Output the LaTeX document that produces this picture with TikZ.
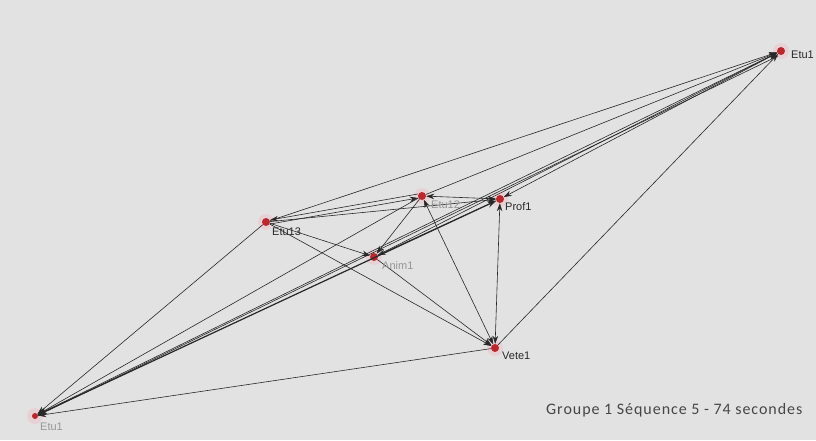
\documentclass[tikz,border=0pt]{standalone}
\usepackage{fontspec}
\setmainfont{Liberation Sans}
\newfontfamily\capfont[LetterSpace=6]{Carlito}
\usetikzlibrary{arrows.meta}
\definecolor{bgc}{RGB}{226,226,226}
\definecolor{dotred}{RGB}{185,40,45}
\definecolor{halo}{RGB}{240,190,195}
\definecolor{linec}{RGB}{40,40,40}
\definecolor{lbldark}{RGB}{40,40,40}
\definecolor{lblgray}{RGB}{150,150,150}
\definecolor{capc}{RGB}{70,70,70}
\tikzset{
  dot/.style={circle, fill=dotred, inner sep=0pt, minimum size=8pt},
  halodot/.style={fill=halo, opacity=0.45},
  lbl/.style={font=\fontsize{11}{12}\selectfont, text=lbldark, inner sep=0pt, anchor=north west},
  lblg/.style={lbl, text=lblgray},
  edge/.style={draw=linec, line width=0.6pt},
  arr/.style={edge, -{Stealth[length=8pt,width=5.5pt]}},
  biarr/.style={edge, {Stealth[length=8pt,width=5.5pt]}-{Stealth[length=8pt,width=5.5pt]}},
  thick arr/.style={edge, line width=1.2pt, {Stealth[length=9pt,width=6.5pt]}-{Stealth[length=9pt,width=6.5pt]}}
}
\begin{document}
\begin{tikzpicture}[x=1pt,y=-1pt]
\fill[bgc] (0,0) rectangle (816,440);
\useasboundingbox (0,0) rectangle (816,440);
% positions
\coordinate (pe1) at (781,51);
\coordinate (pe13) at (266,222);
\coordinate (pe12) at (422,196);
\coordinate (pp1) at (500,199);
\coordinate (pa1) at (374,257);
\coordinate (pv1) at (495,348);
\coordinate (pbl) at (35,416);
\foreach \c in {pe1,pe13,pe12,pp1,pa1,pv1,pbl} \fill[halodot] (\c) circle (8pt);
% nodes
\node[dot] (e1) at (pe1) {};
\node[dot] (e13) at (pe13) {};
\node[dot] (e12) at (pe12) {};
\node[dot] (p1) at (pp1) {};
\node[dot] (a1) at (pa1) {};
\node[dot] (v1) at (pv1) {};
\node[dot, minimum size=6pt] (bl) at (pbl) {};
% edges
\draw[arr] (bl) -- (e1);
\draw[arr] ([yshift=-2pt]e1.south west) -- ([yshift=-2pt]bl.north east);
\draw[thick arr] (bl) -- (p1);
\draw[arr] (e13) -- (bl);
\draw[arr] (e12) -- (bl);
\draw[arr] (v1) -- (bl);
\draw[arr] (e13) -- (e1);
\draw[arr] ([yshift=-2pt]e13.east) -- ([yshift=-2pt]e12.west);
\draw[arr] ([yshift=2pt]e12.west) -- ([yshift=2pt]e13.east);
\draw[arr] (e13) -- (p1);
\draw[arr] (e13) -- (a1);
\draw[arr] (e13) -- (v1);
\draw[arr] (e12) -- (e1);
\draw[biarr] (e12) -- (p1);
\draw[arr] (e12) -- (a1);
\draw[biarr] (e12) -- (v1);
\draw[biarr] (p1) -- (e1);
\draw[biarr] (p1) -- (v1);
\draw[arr] (v1) -- (e1);
\draw[arr] (a1) -- (v1);
\draw[arr] (a1) -- (e1);
\draw[arr] (p1) -- (a1);
% labels
\node[lbl] (le1) at (791,51) {Etu1};
\node[lbl] (le13) at (272,228) {Etu13};
\node[lblg] (le12) at (431,201) {Etu12};
\node[lbl] (lp1) at (505,202) {Prof1};
\node[lblg] (la1) at (382,261) {Anim1};
\node[lbl] (lv1) at (502,352) {Vete1};
\node[lblg] (lbl1) at (40,423) {Etu1};
\node[font=\capfont\fontsize{16}{18}\selectfont, text=capc, anchor=west, inner sep=0pt] (cap) at (546,410) {Groupe 1 Séquence 5 - 74 secondes};
\end{tikzpicture}
\end{document}
